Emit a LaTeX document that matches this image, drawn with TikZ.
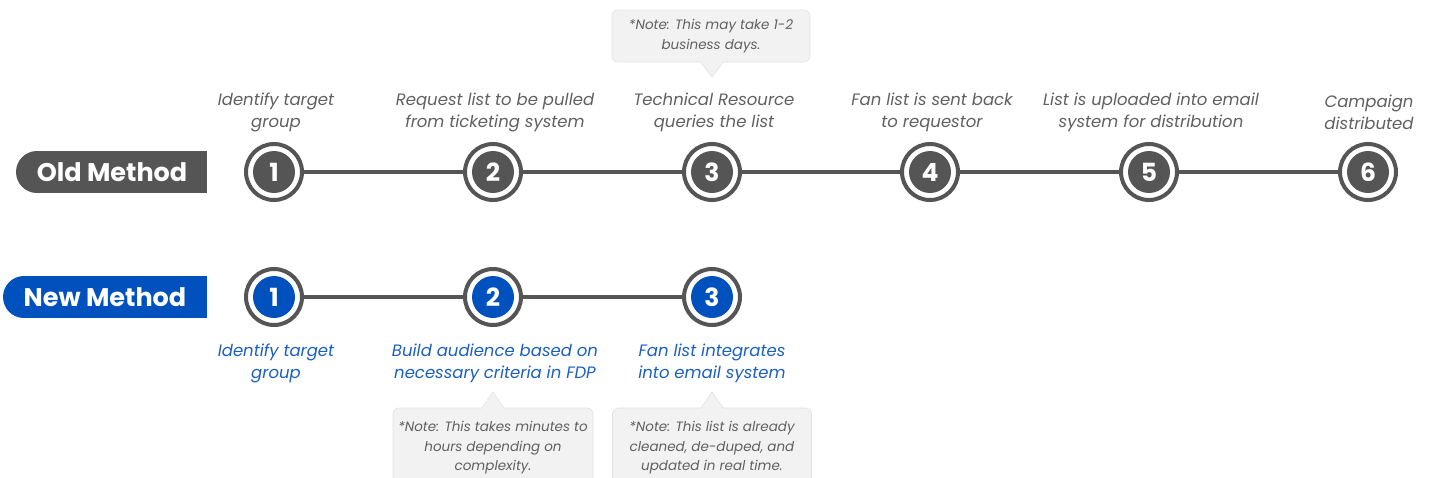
\documentclass[tikz,border=0pt]{standalone}
\usepackage{fontspec}
\setmainfont{Poppins}
\definecolor{stepgray}{HTML}{555555}
\definecolor{textgray}{HTML}{606060}
\definecolor{newblue}{HTML}{0051BD}
\definecolor{labelblue}{HTML}{1B5FC1}
\definecolor{notefill}{HTML}{F2F2F2}
\definecolor{noteedge}{HTML}{E2E2E2}
\begin{document}
\begin{tikzpicture}[x=1pt,y=-1pt,
  ring/.style={circle,draw=stepgray,line width=4pt,fill=white,minimum size=56pt,inner sep=0pt},
  numdisc/.style={circle,fill=#1,minimum size=42pt,inner sep=0pt,text=white,
    font=\fontsize{25}{25}\selectfont\bfseries},
  link/.style={draw=stepgray,line width=4pt},
  tagtext/.style={text=white,font=\fontsize{25.5}{25.5}\selectfont\bfseries},
  steplabel/.style={align=center,text=textgray,font=\fontsize{16.5}{22}\selectfont\itshape},
  newlabel/.style={align=center,text=labelblue,font=\fontsize{16.5}{22}\selectfont\itshape},
  notebox/.style={rounded corners=6pt,fill=notefill,draw=noteedge,line width=0.6pt,
    align=center,text=textgray,font=\fontsize{13.5}{19.5}\selectfont\itshape,inner sep=0pt}
]
\useasboundingbox (0,0) rectangle (1429,477);

% method tags: round left end, square right end
\fill[stepgray] (37,172) circle[radius=21];
\fill[stepgray] (37,151) rectangle (207,193);
\node[tagtext] (oldtag) at (112,172) {Old Method};
\fill[newblue] (24,297) circle[radius=21];
\fill[newblue] (24,276) rectangle (207,318);
\node[tagtext] (newtag) at (105,297) {New Method};

% old method steps
\foreach \i/\x in {1/274,2/493,3/712,4/930,5/1149,6/1368}{
  \node[ring] (o\i) at (\x,172) {};
  \node[numdisc=stepgray] (od\i) at (o\i) {\i};
}
\foreach \a/\b in {1/2,2/3,3/4,4/5,5/6}{
  \draw[link] (o\a.east) -- (o\b.west);
}

% new method steps
\foreach \i/\x in {1/274,2/493,3/712}{
  \node[ring] (n\i) at (\x,297) {};
  \node[numdisc=newblue] (nd\i) at (n\i) {\i};
}
\foreach \a/\b in {1/2,2/3}{
  \draw[link] (n\a.east) -- (n\b.west);
}

% step descriptions, old method
\node[steplabel] (ol1) at (276,112.5) {Identify target\\group};
\node[steplabel] (ol2) at (495,112.5) {Request list to be pulled\\from ticketing system};
\node[steplabel] (ol3) at (714,112.5) {Technical Resource\\queries the list};
\node[steplabel] (ol4) at (932,112.5) {Fan list is sent back\\to requestor};
\node[steplabel] (ol5) at (1151,112.5) {List is uploaded into email\\system for distribution};
\node[steplabel] (ol6) at (1369,112.5) {Campaign\\distributed};

% step descriptions, new method
\node[newlabel] (nl1) at (276,363.5) {Identify target\\group};
\node[newlabel] (nl2) at (495,363.5) {Build audience based on\\necessary criteria in FDP};
\node[newlabel] (nl3) at (712,363.5) {Fan list integrates\\into email system};

% notes with pointers
\node[notebox,minimum width=198pt,minimum height=52pt] (note1) at (711,36)
  {*Note: This may take 1-2\\business days.};
\fill[notefill] (701,61) -- (712,77) -- (723,61) -- cycle;
\draw[noteedge,line width=0.6pt] (701,62.3) -- (712,77) -- (723,62.3);

\node[notebox,minimum width=200pt,minimum height=80pt] (note2) at (493,448)
  {*Note: This takes minutes to\\hours depending on\\complexity.};
\fill[notefill] (482,409) -- (493,392) -- (504,409) -- cycle;
\draw[noteedge,line width=0.6pt] (482,407.7) -- (493,392) -- (504,407.7);

\node[notebox,minimum width=199pt,minimum height=80pt] (note3) at (712,448)
  {*Note: This list is already\\cleaned, de-duped, and\\updated in real time.};
\fill[notefill] (701,409) -- (712,392) -- (723,409) -- cycle;
\draw[noteedge,line width=0.6pt] (701,407.7) -- (712,392) -- (723,407.7);
\end{tikzpicture}
\end{document}
